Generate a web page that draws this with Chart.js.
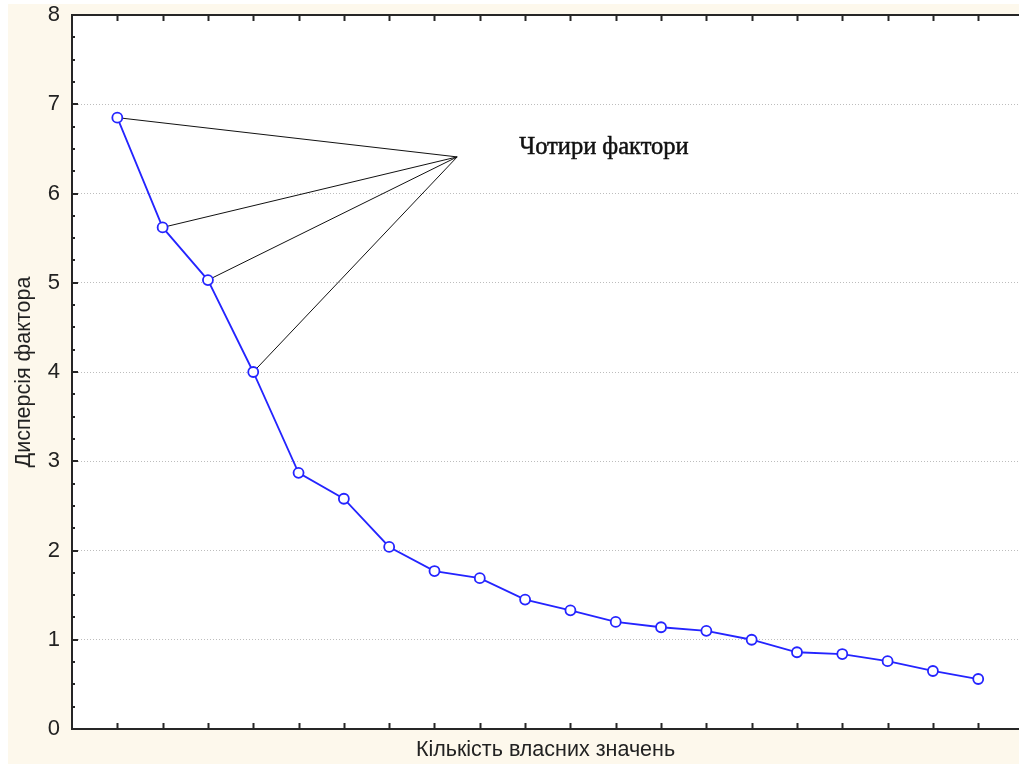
<!DOCTYPE html>
<html>
<head>
<meta charset="utf-8">
<script src="https://cdn.jsdelivr.net/npm/chart.js@4/dist/chart.umd.min.js"></script>
<style>
  html, body { margin: 0; padding: 0; background: #ffffff; }
  #wrap { position: relative; width: 1019px; height: 764px; overflow: hidden; }
  canvas { display: block; }
</style>
</head>
<body>
<div id="wrap"><canvas id="scree" width="1019" height="764"></canvas></div>
<script>
// Eigenvalue numbers (x) and their variances (y)
const factorNumbers = [1, 2, 3, 4, 5, 6, 7, 8, 9, 10, 11, 12, 13, 14, 15, 16, 17, 18, 19, 20];
const eigenvalues = [6.85, 5.62, 5.03, 4.00, 2.87, 2.58, 2.04, 1.77, 1.69, 1.45,
                     1.33, 1.20, 1.14, 1.10, 1.00, 0.86, 0.84, 0.76, 0.65, 0.56];
const yTickValues = [0, 1, 2, 3, 4, 5, 6, 7, 8];

// The four retained factors are pointed at from one callout
const calloutFactors = [1, 2, 3, 4];
const calloutApex = [8.5, 6.41];
const calloutText = 'Чотири фактори';
const calloutTextPos = [9.87, 6.44];

const xTitle = 'Кількість власних значень';
const yTitle = 'Дисперсія фактора';

const screePoints = factorNumbers.map((n, i) => ({ x: n, y: eigenvalues[i] }));

const calloutSets = calloutFactors.map(n => ({
  data: [{ x: n, y: eigenvalues[n - 1] }, { x: calloutApex[0], y: calloutApex[1] }],
  borderColor: '#111111',
  borderWidth: 1,
  pointRadius: 0,
  fill: false,
  tension: 0,
  order: 2
}));

const framePlugin = {
  id: 'frame',
  beforeDraw(chart) {
    const { ctx, chartArea: a } = chart;
    ctx.save();
    ctx.fillStyle = '#fdf8ec';
    ctx.fillRect(8, 4, chart.width - 8, chart.height - 4);
    ctx.fillStyle = '#ffffff';
    ctx.fillRect(a.left, a.top, chart.width - a.left, a.bottom - a.top);
    ctx.restore();
  },
  afterDatasetsDraw(chart) {
    const { ctx, chartArea: a, scales: { x, y } } = chart;
    ctx.save();
    ctx.strokeStyle = '#262626';
    ctx.lineWidth = 2;
    ctx.beginPath();
    ctx.moveTo(chart.width + 2, a.top);
    ctx.lineTo(a.left, a.top);
    ctx.lineTo(a.left, a.bottom);
    ctx.lineTo(chart.width + 2, a.bottom);
    ctx.stroke();

    // inward ticks on the bottom and top edges
    ctx.beginPath();
    factorNumbers.forEach(n => {
      const px = Math.round(x.getPixelForValue(n)) + 0.5;
      ctx.moveTo(px, a.bottom);
      ctx.lineTo(px, a.bottom - 6);
      ctx.moveTo(px, a.top);
      ctx.lineTo(px, a.top + 6);
    });
    ctx.stroke();

    // minor ticks on the left edge
    ctx.beginPath();
    for (let v = 0.25; v < 8; v += 0.25) {
      const py = Math.round(y.getPixelForValue(v));
      const len = Math.abs(v - Math.round(v)) < 1e-6 ? 6 : 3;
      ctx.moveTo(a.left, py);
      ctx.lineTo(a.left + len, py);
    }
    ctx.stroke();

    // callout label
    ctx.fillStyle = '#111111';
    ctx.strokeStyle = '#111111';
    ctx.lineWidth = 0.5;
    ctx.font = '24.5px "Liberation Serif", "Times New Roman", serif';
    ctx.textAlign = 'left';
    ctx.textBaseline = 'alphabetic';
    const tx = x.getPixelForValue(calloutTextPos[0]);
    const ty = y.getPixelForValue(calloutTextPos[1]);
    ctx.fillText(calloutText, tx, ty);
    ctx.strokeText(calloutText, tx, ty);
    ctx.restore();
  }
};

new Chart(document.getElementById('scree'), {
  type: 'line',
  data: {
    datasets: [
      {
        data: screePoints,
        borderColor: '#2424ff',
        borderWidth: 1.8,
        pointRadius: 5,
        pointBorderWidth: 1.8,
        pointBorderColor: '#2424ff',
        pointBackgroundColor: '#ffffff',
        fill: false,
        tension: 0,
        order: 1
      },
      ...calloutSets
    ]
  },
  options: {
    responsive: false,
    animation: false,
    events: [],
    layout: { autoPadding: false, padding: { left: 0, right: 0, top: 15, bottom: 0 } },
    plugins: { legend: { display: false }, tooltip: { enabled: false } },
    scales: {
      x: {
        type: 'linear',
        min: 0,
        max: 20.9,
        grid: { display: false, drawTicks: false },
        border: { display: false },
        ticks: { display: false },
        title: {
          display: true,
          text: xTitle,
          color: '#222222',
          font: { family: 'Liberation Sans, Arial, sans-serif', size: 21.5 },
          padding: { top: 0, bottom: 1 }
        },
        afterFit(scale) { scale.height = 35; scale.paddingLeft = 0; scale.paddingRight = 0; }
      },
      y: {
        type: 'linear',
        min: 0,
        max: 8,
        afterBuildTicks(scale) { scale.ticks = yTickValues.map(v => ({ value: v })); },
        grid: {
          drawTicks: false,
          color: '#bdbdbd',
          lineWidth: 1
        },
        border: { display: false, dash: [1, 2] },
        ticks: {
          color: '#222222',
          padding: 12,
          font: { family: 'Liberation Sans, Arial, sans-serif', size: 22 }
        },
        title: {
          display: true,
          text: yTitle,
          color: '#222222',
          font: { family: 'Liberation Sans, Arial, sans-serif', size: 21.5 },
          padding: { top: 11.5, bottom: 0 }
        },
        afterFit(scale) { scale.width = 72; scale.paddingTop = 0; scale.paddingBottom = 0; }
      }
    }
  },
  plugins: [framePlugin]
});
</script>
</body>
</html>
